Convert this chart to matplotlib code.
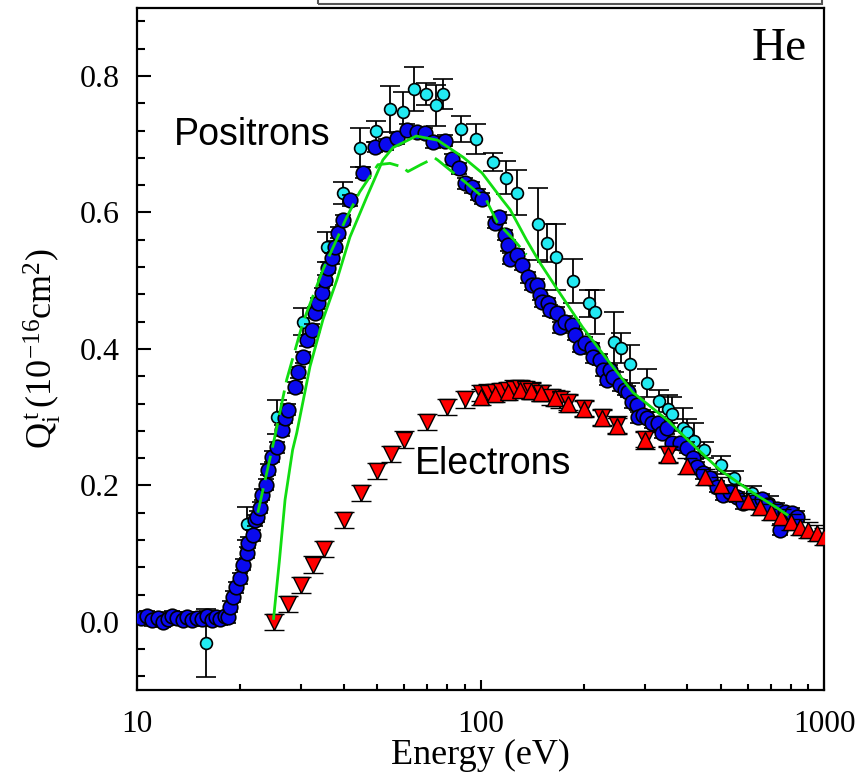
import numpy as np
import matplotlib
matplotlib.use("Agg")
import matplotlib.pyplot as plt
from matplotlib.ticker import FixedLocator, FixedFormatter, MultipleLocator, NullFormatter
from matplotlib.patches import Rectangle

plt.rcParams['font.family'] = ['Liberation Serif', 'DejaVu Serif']
plt.rcParams['mathtext.fontset'] = 'custom'
plt.rcParams['mathtext.rm'] = 'Liberation Serif'
plt.rcParams['mathtext.it'] = 'Liberation Serif:italic'

# positrons, dense data set (dark blue circles)
blue_E = [10.3, 10.7, 11.1, 11.5, 11.9, 12.3, 12.7, 13.1, 13.6, 14.0, 14.5, 15.0, 15.5, 16.0, 16.5,
          17.0, 17.5, 18.0, 18.4,
          18.7, 19.0, 19.5, 20.0, 20.4, 20.9, 21.1, 21.8, 22.1, 22.3, 22.8, 23.1, 23.7, 24.1, 24.7,
          25.6, 26.4, 27.0, 27.5, 28.8, 29.4, 30.4, 31.3, 32.3, 33.0, 33.6, 34.6, 35.3, 36.0, 37.0,
          37.7, 38.5, 39.8, 41.7, 45.5, 49.3, 53.1, 57.1, 61.1, 65.3, 68.9, 72.7, 78.8, 82.6, 86.5,
          90.1, 94.4, 98.4, 101, 110, 113, 118, 120, 122, 128, 132, 137, 141, 146, 149, 151, 157,
          159, 167, 170, 176, 185, 188, 195, 201, 211, 213, 223, 227, 234, 238, 243, 255, 264, 269,
          276, 285, 287, 297, 305, 316, 329, 338, 349, 361, 381, 399, 416, 427, 444, 466, 488, 508,
          532, 558, 581, 621, 660, 682, 729, 745, 770, 807, 834]
blue_Q = [0.005, 0.008, 0.002, 0.006, 0.0, 0.004, 0.008, 0.006, 0.003, 0.007, 0.002, 0.006, 0.004,
          0.008, 0.002, 0.007, 0.004, 0.008, 0.007,
          0.022, 0.037, 0.051, 0.064, 0.084, 0.101, 0.116, 0.127, 0.149, 0.154, 0.167, 0.186, 0.201,
          0.223, 0.242, 0.256, 0.281, 0.299, 0.311, 0.344, 0.366, 0.388, 0.413, 0.428, 0.453, 0.467,
          0.482, 0.501, 0.519, 0.533, 0.550, 0.570, 0.589, 0.618, 0.658, 0.696, 0.700, 0.709, 0.721,
          0.718, 0.716, 0.703, 0.705, 0.678, 0.665, 0.643, 0.637, 0.626, 0.620, 0.585, 0.593, 0.567,
          0.552, 0.532, 0.538, 0.523, 0.505, 0.494, 0.494, 0.479, 0.469, 0.467, 0.457, 0.453, 0.432,
          0.440, 0.435, 0.421, 0.403, 0.409, 0.401, 0.388, 0.384, 0.369, 0.355, 0.369, 0.359, 0.347,
          0.340, 0.337, 0.322, 0.318, 0.300, 0.303, 0.299, 0.292, 0.292, 0.277, 0.284, 0.262, 0.262,
          0.255, 0.240, 0.227, 0.218, 0.211, 0.198, 0.186, 0.190, 0.183, 0.174, 0.176, 0.180, 0.171,
          0.166, 0.135, 0.161, 0.159, 0.154]

# positrons, second data set (cyan circles, large error bars)
cyan_E = [15.9, 20.9, 25.6, 30.4, 35.7, 39.8, 44.6, 49.6, 54.5, 59.4, 64.0, 69.3, 74.4, 78.0, 87.6,
          97.3, 109, 119, 128, 147, 156, 166, 186, 207, 215, 244, 256, 273, 305, 330, 351, 361, 389,
          398, 418, 448, 501, 547, 617, 689]
cyan_Q = [-0.031, 0.144, 0.300, 0.440, 0.549, 0.628, 0.695, 0.719, 0.752, 0.747, 0.781, 0.774, 0.757,
          0.774, 0.722, 0.708, 0.674, 0.651, 0.629, 0.583, 0.555, 0.535, 0.500, 0.467, 0.454, 0.410,
          0.401, 0.378, 0.350, 0.324, 0.312, 0.305, 0.284, 0.278, 0.265, 0.252, 0.230, 0.211, 0.189,
          0.174]
cyan_err = [0.05, 0.024, 0.025, 0.02, 0.022, 0.016, 0.029, 0.015, 0.034, 0.029, 0.032, 0.016, 0.03,
            0.022, 0.019, 0.022, 0.013, 0.024, 0.033, 0.053, 0.028, 0.048, 0.032, 0.02, 0.032, 0.044,
            0.022, 0.028, 0.021, 0.016, 0.02, 0.025, 0.03, 0.02, 0.026, 0.012, 0.013, 0.01, 0.01, 0.01]

# electrons, down triangles
down_E = [25, 27.5, 30, 32.5, 35, 40, 45, 50, 55, 60, 70, 80, 90, 100, 105, 110, 115, 120, 125, 130,
          135, 140, 150, 160, 170, 180, 200, 225, 250, 300, 350]
down_Q = [0.0, 0.026, 0.054, 0.084, 0.107, 0.149, 0.189, 0.221, 0.246, 0.267, 0.293, 0.315, 0.326,
          0.335, 0.336, 0.337, 0.338, 0.340, 0.342, 0.343, 0.341, 0.338, 0.335, 0.330, 0.326, 0.322,
          0.313, 0.300, 0.289, 0.268, 0.246]

# electrons, up triangles
up_E = [100, 110, 120, 130, 140, 150, 165, 180, 200, 225, 250, 300, 350, 400, 450, 500, 550, 600, 650,
        700, 750, 800, 850, 900, 950, 1000]
up_Q = [0.330, 0.334, 0.337, 0.340, 0.339, 0.335, 0.328, 0.320, 0.312, 0.299, 0.287, 0.266, 0.245,
        0.228, 0.212, 0.201, 0.189, 0.177, 0.168, 0.161, 0.154, 0.146, 0.139, 0.135, 0.130, 0.125]

# theory curves (green)
theo_E = [25.0, 26.0, 27.0, 28.4, 29.2, 31.9, 34.8, 38.2, 41.7, 46.7, 52, 55.6, 65, 75, 89, 101, 116,
          122, 136, 149, 170, 198, 234, 278, 349, 416, 496, 621, 729, 780]
theo_Q = [0.005, 0.09, 0.179, 0.252, 0.277, 0.374, 0.443, 0.501, 0.564, 0.623, 0.677, 0.695, 0.712,
          0.706, 0.681, 0.658, 0.618, 0.604, 0.560, 0.526, 0.482, 0.432, 0.384, 0.336, 0.296, 0.259,
          0.223, 0.189, 0.167, 0.157]

theo2_E = [22.5, 25.2, 27.3, 30.4, 34.8, 40.8, 44.5, 50.3, 54.5, 59, 61.5, 67, 73.5, 75, 81.6, 90, 104,
           112, 125, 136]
theo2_Q = [0.160, 0.271, 0.355, 0.438, 0.516, 0.593, 0.630, 0.670, 0.672, 0.667, 0.660, 0.670, 0.680,
           0.677, 0.662, 0.645, 0.618, 0.585, 0.560, 0.538]

fig = plt.figure(figsize=(8.55, 7.78), dpi=100)
ax = fig.add_axes([0.160, 0.113, 0.804, 0.877])

ax.errorbar(cyan_E, cyan_Q, yerr=cyan_err, fmt='o', ms=8.5, mfc='#22eaf2', mec='black', mew=1.2,
            ecolor='black', elinewidth=1.3, capsize=7, capthick=1.3, zorder=2)
ax.errorbar(blue_E, blue_Q, yerr=0.008, fmt='o', ms=10.5, mfc='#0a0aee', mec='black', mew=1.2,
            ecolor='black', elinewidth=1.3, capsize=6, capthick=1.3, zorder=3)
ax.errorbar(down_E, down_Q, yerr=0.012, fmt='v', ms=11, mfc='#ff0000', mec='black', mew=1.0,
            ecolor='black', elinewidth=1.3, capsize=7, capthick=1.3, zorder=4)
ax.errorbar(up_E, up_Q, yerr=0.012, fmt='^', ms=11, mfc='#ff0000', mec='black', mew=1.0,
            ecolor='black', elinewidth=1.3, capsize=7, capthick=1.3, zorder=4)

ax.plot(theo_E, theo_Q, color='#11dd11', lw=2, zorder=5)
ax.plot(theo2_E, theo2_Q, color='#11dd11', lw=2, dashes=(9, 3), zorder=5)

ax.set_xscale('log')
ax.set_xlim(10, 1000)
ax.set_ylim(-0.1, 0.9)

ax.xaxis.set_major_locator(FixedLocator([10, 100, 1000]))
ax.xaxis.set_major_formatter(FixedFormatter(['10', '100', '1000']))
minor_x = [m * d for d in (10, 100) for m in range(2, 10)]
ax.xaxis.set_minor_locator(FixedLocator(minor_x))
ax.xaxis.set_minor_formatter(NullFormatter())
ax.yaxis.set_major_locator(FixedLocator([0.0, 0.2, 0.4, 0.6, 0.8]))
ax.yaxis.set_major_formatter(FixedFormatter(['0.0', '0.2', '0.4', '0.6', '0.8']))
ax.yaxis.set_minor_locator(MultipleLocator(0.04))

ax.tick_params(axis='both', which='both', direction='in', width=1.5, top=False, right=False)
ax.tick_params(axis='y', which='major', length=10, labelsize=23, pad=12)
ax.tick_params(axis='y', which='minor', length=6)
ax.tick_params(axis='x', which='major', length=7.5, labelsize=22.5, pad=14)
ax.tick_params(axis='x', which='minor', length=4.5)

for spine in ax.spines.values():
    spine.set_linewidth(1.6)

ax.set_xlabel('Energy (eV)', fontsize=26, labelpad=0)
ax.set_ylabel(r'$\mathrm{Q_i^{\,t}\,(10^{-16}cm^2)}$', fontsize=26, labelpad=12)

ax.text(0.168, 0.814, 'Positrons', fontsize=27, family='Liberation Sans', ha='center', va='center',
        transform=ax.transAxes)
ax.text(0.518, 0.332, 'Electrons', fontsize=27, family='Liberation Sans', ha='center', va='center',
        transform=ax.transAxes)
ax.text(0.935, 0.94, 'He', fontsize=34, ha='center', va='center', transform=ax.transAxes)

# partially visible box above the frame
fig.add_artist(Rectangle((318 / 855, 1 - 4 / 778), 504 / 855, 0.05, transform=fig.transFigure,
                         fill=False, edgecolor='#555555', lw=1.5, clip_on=False))

fig.savefig('out.png', dpi=100)
